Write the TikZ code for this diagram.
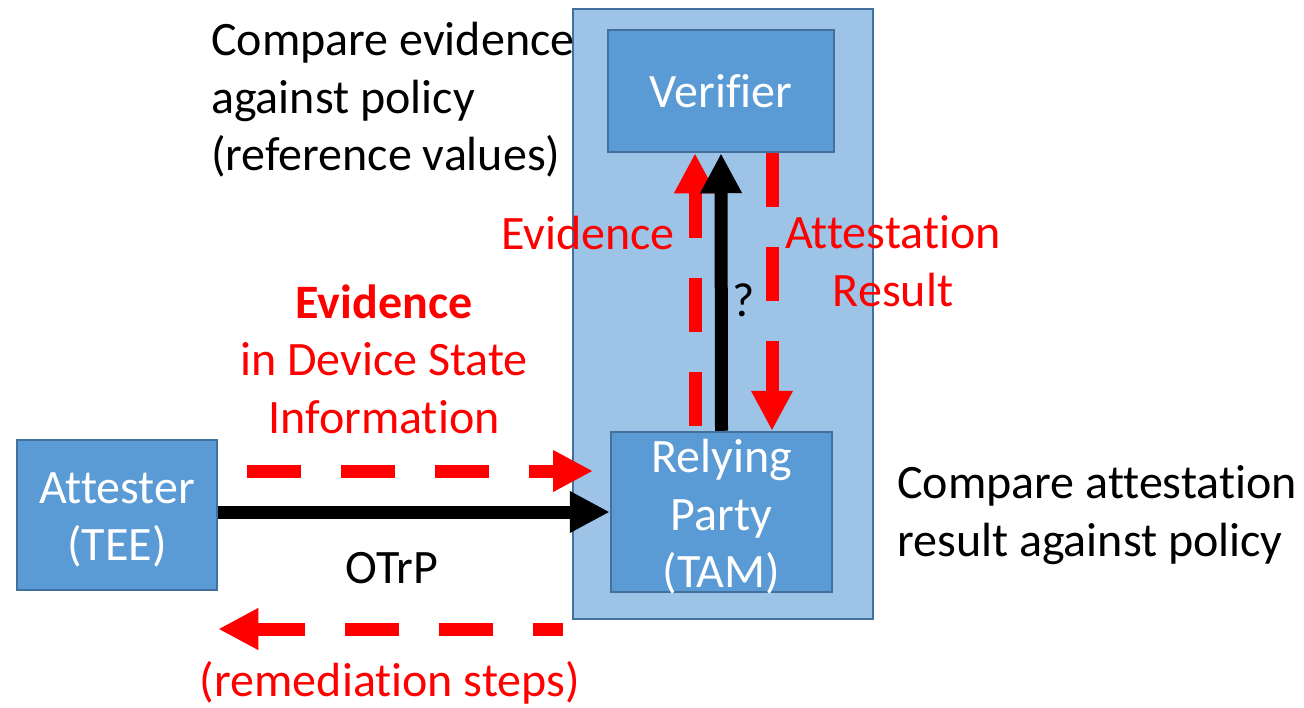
\documentclass[tikz,border=0pt]{standalone}
\usepackage{fontspec}
\setmainfont{Carlito}[Ligatures=NoCommon]
\usetikzlibrary{arrows.meta,positioning}

\definecolor{boxblue}{HTML}{5B9BD5}
\definecolor{boxline}{HTML}{41719C}
\definecolor{panelblue}{HTML}{9DC3E6}

\begin{document}
\begin{tikzpicture}[x=1pt,y=-1pt,
	every node/.style={font=\fontsize{48}{57.5}\selectfont, inner sep=0pt},
	box/.style={draw=boxline, line width=2.5pt, fill=boxblue, text=white, align=center},
	boxtext/.style={text=white, align=center},
	flow/.style={line width=13pt, -{Triangle[length=40pt,width=39pt]}},
	redflow/.style={flow, red, dash pattern=on 54pt off 40pt},
	redtext/.style={text=red, align=center}]
	
	% 画布大小 (按像素取坐标)
	\useasboundingbox (0,0) rectangle (1304,707);
	
	% 依赖方一侧的浅蓝底框
	\node[draw=boxline, line width=2pt, fill=panelblue, minimum width=300pt, minimum height=610pt] (panel) at (723,314) {};
	
	% 三个实体
	\node[box, minimum width=226pt, minimum height=122pt] (verifier) at (721,91) {Verifier}; % 验证方
	\node[box, minimum width=221pt, minimum height=160pt] (rp) at (721.5,512) {}; % 依赖方
	\node[box, minimum width=200pt, minimum height=150pt] (attester) at (117,515) {}; % 证明方
	\node[boxtext] (rptext) at ([yshift=-5pt]rp.center) {Relying\\Party\\(TAM)};
	\node[boxtext] (attestertext) at ([yshift=-5pt]attester.center) {Attester\\(TEE)};
	
	% 箭头的自由端点
	\coordinate (evstart) at (247,471); % 证据虚线起点
	\coordinate (evend) at (593,471); % 证据虚线终点
	\coordinate (remstart) at (563,629); % 补救虚线起点
	\coordinate (remend) at (attester.east |- remstart); % 补救虚线终点
	
	% 水平方向的箭头
	\draw[flow] (attester.east |- rp.west) -- (rp.west); % OTrP 实线
	\draw[redflow] (evstart) -- (evend); % 证据
	\draw[redflow, dash phase=24pt] (remstart) -- (remend); % 补救步骤
	
	% 竖直方向的箭头
	\draw[redflow] ([shift={(-26.5,-5)}]rp.north) -- ([xshift=-26pt]verifier.south); % 证据上传
	\draw[flow] (rp.north) -- (verifier.south); % 问号实线
	\draw[redflow] ([xshift=51pt]verifier.south) -- ([xshift=50.5pt]rp.north); % 证明结果
	
	% 文字说明
	\node[align=left, anchor=west] (cmpev) at (211,100) {Compare evidence\\against policy\\(reference values)};
	\node[align=left, anchor=west] (cmpres) at (897,515) {Compare attestation\\result against policy};
	\node[redtext] (evlabel) at (588,233) {Evidence};
	\node[redtext] (arlabel) at (893,261) {Attestation\\Result};
	\node (qmark) at (744,300) {?};
	\node[redtext] (dsilabel) at (384,359) {\textbf{Evidence}\\in Device State\\Information};
	\node (otrp) at (392,568) {OTrP};
	\node[redtext] (remlabel) at (390,683) {(remediation steps)};
	
\end{tikzpicture}
\end{document}
